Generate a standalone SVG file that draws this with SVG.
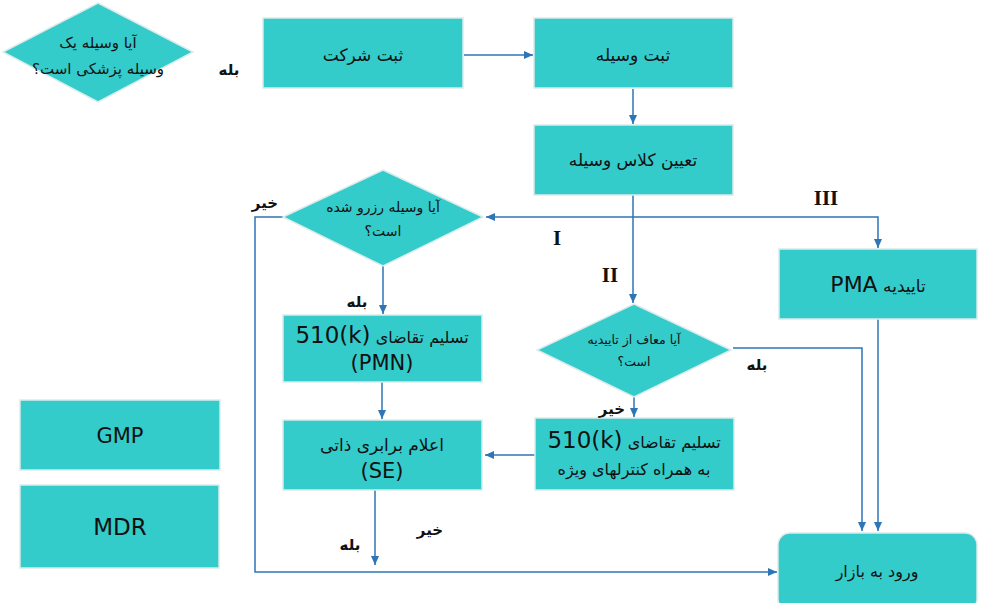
<svg xmlns="http://www.w3.org/2000/svg" width="983" height="603" viewBox="0 0 983 603">
<defs>
<marker id="arr" markerWidth="10" markerHeight="8" refX="9" refY="4" orient="auto" markerUnits="userSpaceOnUse">
<path d="M0,0 L9,4 L0,8 z" fill="#2E75B6"/>
</marker>
<style>
.box{fill:#34CBCB;stroke:#DCEBEB;stroke-width:1.5}
.fa{font-family:"DejaVu Sans","Noto Sans",sans-serif;fill:#111;direction:rtl;text-anchor:middle}
.en{font-family:"DejaVu Sans","Noto Sans",sans-serif;fill:#111;text-anchor:middle}
.lbl{font-family:"DejaVu Sans","Noto Sans",sans-serif;font-weight:bold;fill:#111;font-size:15px;direction:rtl;text-anchor:middle}
.rn{font-family:"Liberation Serif","DejaVu Serif",serif;font-weight:bold;fill:#111;font-size:21px;text-anchor:middle}
.c{fill:none;stroke:#2E75B6;stroke-width:1.5;marker-end:url(#arr)}
</style>
</defs>
<rect width="983" height="603" fill="#fff"/>

<g id="connectors">
<path class="c" d="M464,55 H533"/>
<path class="c" d="M633,89 V124"/>
<path class="c" d="M633,195 V303"/>
<path class="c" d="M633,217 H878 V248"/>
<path class="c" d="M633,217 H486"/>
<path class="c" d="M283,217 H255 V572 H777"/>
<path class="c" d="M383,266 V314"/>
<path class="c" d="M382,382 V419"/>
<path class="c" d="M535,455 H485"/>
<path class="c" d="M375,490 V565"/>
<path class="c" d="M733,348 H862 V531"/>
<path class="c" d="M634,397 V417"/>
<path class="c" d="M878,319 V531"/>
</g>

<g id="n-medical">
<polygon class="box" points="98,3 193,52 98,102 3,52"/>
<text class="fa" x="98" y="48" font-size="15">آیا وسیله یک</text>
<text class="fa" x="98" y="74" font-size="15">وسیله پزشکی است؟</text>
</g>

<g id="n-company">
<rect class="box" x="263" y="18" width="200" height="70"/>
<text class="fa" x="363" y="61" font-size="17">ثبت شرکت</text>
</g>

<g id="n-device">
<rect class="box" x="534" y="18" width="199" height="70"/>
<text class="fa" x="633" y="61" font-size="17">ثبت وسیله</text>
</g>

<g id="n-class">
<rect class="box" x="534" y="125" width="199" height="70"/>
<text class="fa" x="633" y="166" font-size="17">تعیین کلاس وسیله</text>
</g>

<g id="n-reserved">
<polygon class="box" points="383,170 483,217 383,266 283,217"/>
<text class="fa" x="383" y="212" font-size="14">آیا وسیله رزرو شده</text>
<text class="fa" x="383" y="236" font-size="14">است؟</text>
</g>

<g id="n-pmn">
<rect class="box" x="283" y="315" width="199" height="67"/>
<text class="fa" x="382" y="343" font-size="16">تسلیم تقاضای <tspan font-size="23">&#x2066;510(k)&#x2069;</tspan></text>
<text class="en" x="382" y="370" font-size="21">(PMN)</text>
</g>

<g id="n-se">
<rect class="box" x="283" y="420" width="199" height="70"/>
<text class="fa" x="382" y="451" font-size="17">اعلام برابری ذاتی</text>
<text class="en" x="382" y="478" font-size="21">(SE)</text>
</g>

<g id="n-exempt">
<polygon class="box" points="634,304 731,350 634,397 537,350"/>
<text class="fa" x="634" y="344" font-size="12.5">آیا معاف از تاییدیه</text>
<text class="fa" x="634" y="366" font-size="12.5">است؟</text>
</g>

<g id="n-special">
<rect class="box" x="535" y="418" width="199" height="72"/>
<text class="fa" x="634" y="448" font-size="16">تسلیم تقاضای <tspan font-size="23">&#x2066;510(k)&#x2069;</tspan></text>
<text class="fa" x="634" y="475" font-size="16">به همراه کنترلهای ویژه</text>
</g>

<g id="n-pma">
<rect class="box" x="779" y="249" width="198" height="70"/>
<text class="fa" x="878" y="292" font-size="17">تاییدیه <tspan font-size="22">PMA</tspan></text>
</g>

<g id="n-market">
<rect class="box" x="778" y="533" width="199" height="78" rx="12" ry="12"/>
<text class="fa" x="877" y="577" font-size="16">ورود به بازار</text>
</g>

<g id="n-gmp">
<rect class="box" x="20" y="400" width="200" height="70"/>
<text class="en" x="120" y="443" font-size="21">GMP</text>
</g>

<g id="n-mdr">
<rect class="box" x="20" y="485" width="199" height="83"/>
<text class="en" x="120" y="535" font-size="23">MDR</text>
</g>

<g id="labels">
<text class="lbl" x="229" y="75">بله</text>
<text class="lbl" x="265" y="208">خیر</text>
<text class="lbl" x="357" y="307">بله</text>
<text class="lbl" x="757" y="370">بله</text>
<text class="lbl" x="612" y="414">خیر</text>
<text class="lbl" x="430" y="535">خیر</text>
<text class="lbl" x="350" y="550">بله</text>
<text class="rn" x="557" y="245">I</text>
<text class="rn" x="610" y="282">II</text>
<text class="rn" x="826" y="205">III</text>
</g>
</svg>
